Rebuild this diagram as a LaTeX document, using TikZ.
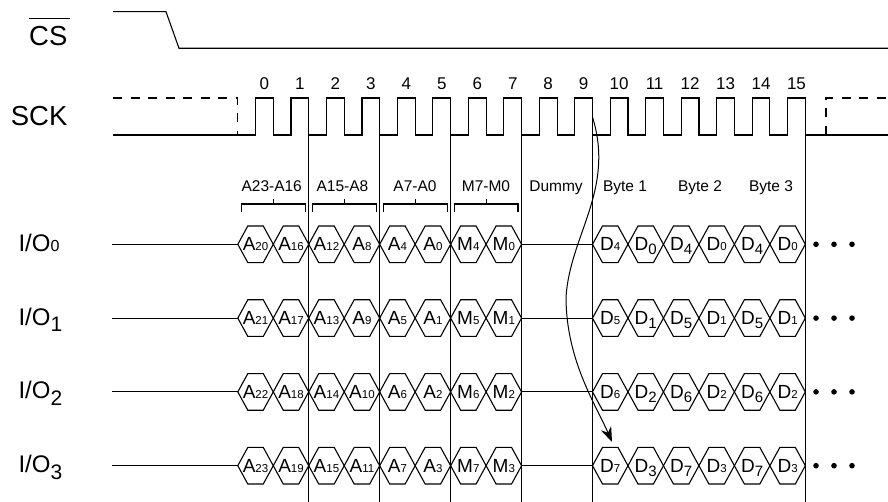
\documentclass[tikz,border=0pt]{standalone}
\usepackage{fontspec}
\setmainfont{Liberation Sans}
\usetikzlibrary{arrows.meta}

\newcommand{\sdig}[1]{{\fontsize{11.5}{11.5}\selectfont #1}}
\newcommand{\ldig}[1]{\raisebox{-4.3pt}{\fontsize{15}{15}\selectfont #1}}

\begin{document}
\begin{tikzpicture}[x=1pt,y=-1pt,line width=1.1pt,>={Stealth[length=15pt,width=11pt]}]
        \tikzstyle{signame}=[font=\fontsize{27.5}{27.5}\selectfont,inner sep=0pt,anchor=base east]
        \tikzstyle{ioname}=[font=\fontsize{24}{24}\selectfont,inner sep=0pt,anchor=base west]
        \tikzstyle{clknum}=[font=\fontsize{17}{17}\selectfont,inner sep=0pt,anchor=base]
        \tikzstyle{field}=[font=\fontsize{15.5}{15.5}\selectfont,inner sep=0pt,anchor=base]
        \tikzstyle{bit}=[font=\fontsize{19}{19}\selectfont,inner sep=0pt,anchor=base]
        \tikzstyle{idle}=[dash pattern=on 9pt off 8.5pt]

        \useasboundingbox (0,0) rectangle (888,502);

        \node [signame] (cs)  at (68,45.7) {CS};                 %chip select
        \draw ([yshift=7.4pt]cs.north west) -- ([xshift=2pt,yshift=7.4pt]cs.north east);
        \draw (113,11.7) -- (166,11.7) -- (179,48.3) -- (888,48.3);

        \node [signame] (sck) at (68,126) {SCK};                 %clock
        \draw (113,135) \foreach \k in {0,...,15} { -- ({255.57+35.47*\k},135) -- ++(0,-37) -- ++(17.73,0) -- ++(0,37) } -- (888,135);
        \draw [idle] (113,98) -- (237.8,98) -- (237.8,135);
        \draw [idle] (826,135) -- (826,98) -- (888,98);
        \foreach \k in {0,...,15}
            \node [clknum] (n\k) at ({264.44+35.47*\k},90) {\k};
        \foreach \k in {1,3,5,7,9,15}
            \draw ({273.3+35.47*\k},135) -- ++(0,367);

        % field names and braces
        \foreach \t/\xc [count=\i] in {A23-A16/271.7,A15-A8/342.5,A7-A0/415,M7-M0/486,Dummy/556,Byte 1/625,Byte 2/700,Byte 3/771}
            \node [field] (f\i) at (\xc,191.5) {\t};
        \foreach \g in {0,...,3} {
            \pgfmathsetmacro{\xl}{241.3+70.94*\g}
            \draw (\xl,212) -- (\xl,204) -- (\xl+63.9,204) -- (\xl+63.9,212);
            \draw (\xl+31.95,204) -- (\xl+31.95,199);
        }

        % I/O lanes
        \foreach \r/\y in {0/244.3,1/318.1,2/391.9,3/465.7} {
            \node [ioname] (io\r) at (18,\y+7) {I/O\ifnum\r=0 {\fontsize{16}{16}\selectfont 0}\else\raisebox{-6.7pt}{\fontsize{21}{21}\selectfont \r}\fi};
            \draw (112,\y) -- (237.8,\y);
            \draw (521.6,\y) -- (592.5,\y);
            \foreach \c in {0,...,7} {
                \pgfmathsetmacro{\xa}{237.8+35.47*\c}
                \pgfmathtruncatemacro{\n}{\c<6 ? 20-4*\c+\r : (\c==6 ? 4+\r : \r)}
                \draw (\xa,\y) -- ++(10,-18.3) -- ++(15.47,0) -- ++(10,18.3) -- ++(-10,18.3) -- ++(-15.47,0) -- cycle;
                \node [bit] (a\r\c) at (\xa+17.73,\y+6.4) {\ifnum\c<6 A\else M\fi\sdig{\n}};
            }
            \foreach \c/\lo in {0/0,1/1,2/1,3/0,4/1,5/0} {
                \pgfmathsetmacro{\xa}{592.5+35.47*\c}
                \pgfmathtruncatemacro{\n}{mod(\c,2)==1 ? \r : 4+\r}
                \draw (\xa,\y) -- ++(10,-18.3) -- ++(15.47,0) -- ++(10,18.3) -- ++(-10,18.3) -- ++(-15.47,0) -- cycle;
                \node [bit] (d\r\c) at (\xa+17.73,\y+6.4) {D\ifnum\lo=1 \ldig{\n}\else\sdig{\n}\fi};
            }
            \foreach \d in {816,834,852}
                \fill (\d,\y) circle (2.8pt);
        }

        % first data out after dummy
        \coordinate (src) at (592.5,117);
        \coordinate (dst) at (612,442);
        \draw [->,line width=1pt] (src) .. controls (615,190) and (570,235) .. (566,297) .. controls (566,360) and (596,405) .. (dst);
\end{tikzpicture}
\end{document}
